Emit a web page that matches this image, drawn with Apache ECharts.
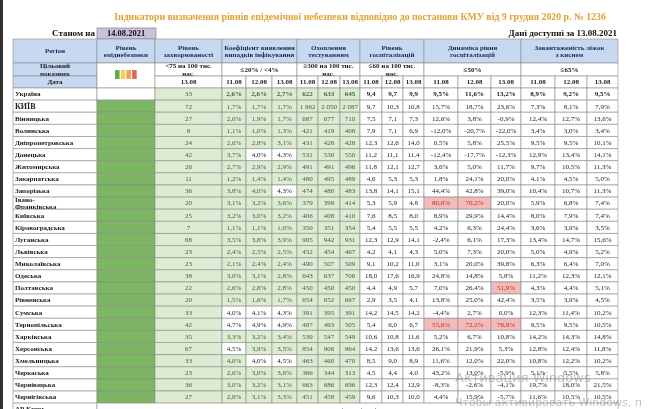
<!DOCTYPE html>
<html><head><meta charset="utf-8">
<script src="https://cdn.jsdelivr.net/npm/echarts@6/dist/echarts.min.js"></script>
<style>html,body{margin:0;padding:0;background:#fff}#c{width:650px;height:409px}</style>
</head><body><div id="c"></div>
<script>
const regions=["Україна","КИЇВ","Вінницька","Волинська","Дніпропетровська","Донецька","Житомирська","Закарпатська","Запорізька","Івано-\nФранківська","Київська","Кіровоградська","Луганська","Львівська","Миколаївська","Одеська","Полтавська","Рівненська","Сумська","Тернопільська","Харківська","Херсонська","Хмельницька","Черкаська","Чернівецька","Чернігівська"];
const zahv=[33,72,27,8,24,42,26,11,36,20,25,7,68,23,23,38,22,20,33,42,35,67,33,23,36,27];
const c11=[2.6,1.7,2.0,1.1,2.6,3.7,2.7,1.2,3.8,3.1,3.2,1.1,3.5,2.4,2.1,3.0,2.6,1.5,4.0,4.7,3.3,4.5,4.0,2.6,3.0,2.8];
const c12=[2.6,1.7,1.9,1.0,2.8,4.0,2.9,1.4,4.0,3.2,3.0,1.1,3.8,2.5,2.4,3.1,2.8,1.6,4.1,4.9,3.2,3.9,4.0,3.0,3.2,3.1];
const c13=[2.7,1.7,1.7,1.3,3.1,4.3,2.9,1.4,4.3,3.6,3.2,1.0,3.9,2.5,2.4,2.8,2.8,1.7,4.3,4.9,3.4,3.5,4.5,3.6,3.1,3.3];
const coefOk11=[1,1,1,1,1,1,1,1,1,1,1,1,1,1,1,1,1,1,0,0,1,0,1,1,1,1];
const coefOk12=[1,1,1,1,1,0,1,1,1,1,1,1,1,1,1,1,1,1,0,0,1,1,0,1,1,1];
const coefOk13=[1,1,1,1,1,0,1,1,0,1,1,1,1,1,1,1,1,1,0,0,1,1,0,1,1,1];
const t11=[622,1962,687,421,431,531,491,480,474,379,406,350,905,452,490,643,450,654,391,487,539,854,463,366,663,451];
const t12=[633,2050,677,419,428,530,491,495,480,399,408,351,942,454,507,637,450,652,395,493,547,906,460,344,686,458];
const t13=[645,2087,710,408,428,550,496,489,483,414,410,354,931,467,509,706,450,667,391,505,549,964,470,313,696,459];
const h11=[9.4,9.7,7.5,7.9,12.3,11.2,11.8,4.6,13.8,5.3,7.6,5.4,12.3,4.2,9.1,18.0,4.4,2.9,14.2,5.4,10.6,14.2,8.5,4.5,12.3,9.6];
const h12=[9.7,10.3,7.1,7.1,12.6,11.1,12.1,5.3,14.1,5.9,8.5,5.5,12.9,4.1,10.2,17.6,4.9,3.5,14.5,6.0,10.8,13.6,9.0,4.4,12.4,10.3];
const h13=[9.9,10.8,7.3,6.9,14.0,11.4,12.7,5.3,15.1,4.8,8.0,5.5,14.1,4.3,11.0,16.9,5.7,4.1,14.2,6.7,11.6,13.6,8.9,4.0,12.9,10.0];
const d11=[9.5,15.7,12.6,-12.0,0.5,-12.4,3.6,1.8,44.4,80.0,8.9,4.2,-2.4,5.0,3.1,24.8,7.0,13.8,-4.4,55.6,5.2,26.1,11.6,43.2,-8.3,4.4];
const d12=[11.6,18.7,3.8,-20.7,5.8,-17.7,5.0,24.1,42.8,70.2,29.9,6.3,6.1,7.3,20.0,14.8,26.4,25.0,2.7,72.2,6.7,21.9,12.0,13.0,-2.6,15.9];
const d13=[13.2,23.6,-0.9,-22.0,25.5,-12.3,11.7,20.0,39.0,20.0,14.4,24.4,17.3,20.0,39.8,5.8,51.9,42.4,0.0,76.9,10.8,5.3,22.0,-5.9,-4.1,-5.7];
const b11=[8.9,7.3,12.4,3.4,9.5,12.9,9.7,4.1,10.4,5.9,8.0,3.6,13.4,5.0,6.3,11.2,4.3,3.5,12.3,9.5,14.2,12.8,10.8,5.1,19.7,11.6];
const b12=[9.2,8.1,12.7,3.0,9.5,13.4,10.5,4.5,10.7,6.8,7.9,3.9,14.7,4.9,6.4,12.3,4.4,3.9,11.4,9.5,14.3,12.4,12.2,5.5,18.0,10.5];
const b13=[9.5,7.9,13.6,3.4,10.1,14.1,11.3,5.0,11.3,7.4,7.4,3.5,15.6,5.2,7.0,12.1,5.1,4.5,10.2,10.5,14.8,11.8,10.2,5.8,21.5,10.5];
const headers=["Регіон","Рівень\nепіднебезпеки","Рівень\nзахворюваності","Коефіцієнт виявлення\nвипадків інфікування","Охоплення\nтестуванням","Рівень\nгоспіталізацій","Динаміка рівня\nгоспіталізацій","Завантаженість ліжок\nз киснем"];
const targets=["<75 на 100 тис.\nнас.","≤20% / <4%","≥300 на 100 тис.\nнас.","≤60 на 100 тис.\nнас.","≤50%","≤65%"];
const dates=["11.08","12.08","13.08"];
const levelColors=["#6aa84f","#f1d35c","#f0a15a","#e06a5a"];

const E=[13,97,155,222,246,272,297,318,340,360,382,403,424,458,491,521,555,587,618];
const RH=12.12, R0=88;
const GREEN="#7cb662", LG="#dcecd3", BLUE="#c6d9f0", PINK="#f4b9b9";
const FONT="Liberation Serif";
const fmt1=v=>v.toFixed(1).replace('.',',');
const pct=v=>fmt1(v)+'%';
const thou=v=>v>=1000?String(v).replace(/(\d)(\d{3})$/,'$1 $2'):String(v);

const cells=[];
function cell(c0,c1,y0,y1,text,o){cells.push(Object.assign({x0:E[c0],x1:E[c1],y0,y1,text:text||'',bg:'#fff',bold:false,size:7,color:'#222'},o||{}));}
const hs=[[0,1],[1,2],[2,3],[3,6],[6,9],[9,12],[12,15],[15,18]];
hs.forEach((h,i)=>cell(h[0],h[1],39,63,headers[i],{bg:BLUE,bold:true,color:'#1f2d4d'}));
cell(0,1,63,76,"Цільовий\nпоказник",{bg:BLUE,bold:true});
cell(0,1,76,88,"Дата",{bg:BLUE,bold:true});
cell(1,2,63,88,"",{squares:true});
const tg=[[2,3],[3,6],[6,9],[9,12],[12,15],[15,18]];
tg.forEach((t,i)=>cell(t[0],t[1],63,76,targets[i],{bold:true}));
cell(2,3,76,88,"13.08",{bold:true});
for(let g=0;g<5;g++)for(let k=0;k<3;k++)cell(3+g*3+k,4+g*3+k,76,88,dates[k],{bold:true});
regions.forEach((r,i)=>{
  const y0=R0+i*RH,y1=y0+RH,u=i===0;
  cell(0,1,y0,y1,r,{bold:true,align:'left',size:i===1?8:7,lh:6.5});
  cell(1,2,y0,y1,"",{bg:u?'#fff':GREEN});
  cell(2,3,y0,y1,String(zahv[i]),{bg:LG,color:'#4a5a3a'});
  [[c11,coefOk11],[c12,coefOk12],[c13,coefOk13]].forEach((p,k)=>cell(3+k,4+k,y0,y1,pct(p[0][i]),{bg:p[1][i]?LG:'#fff',bold:u,color:u?'#3d6b2a':(p[1][i]?'#4a5a3a':'#222')}));
  [t11,t12,t13].forEach((a,k)=>cell(6+k,7+k,y0,y1,thou(a[i]),{bg:LG,bold:u,color:u?'#3d6b2a':'#4a5a3a'}));
  [h11,h12,h13].forEach((a,k)=>cell(9+k,10+k,y0,y1,fmt1(a[i]),{bold:u}));
  [d11,d12,d13].forEach((a,k)=>cell(12+k,13+k,y0,y1,pct(a[i]),{bold:u,bg:a[i]>50?PINK:'#fff',color:a[i]>50?'#b03030':'#222'}));
  [b11,b12,b13].forEach((a,k)=>cell(15+k,16+k,y0,y1,pct(a[i]),{bold:u}));
});
const yk=R0+regions.length*RH;
cell(0,1,yk,yk+RH,"АР Крим",{bold:true,align:'left'});
cell(1,18,yk,yk+RH,"відсутні дані");

const chart=echarts.init(document.getElementById('c'),null,{renderer:'canvas'});
chart.setOption({
  animation:false,
  grid:{left:0,right:0,top:0,bottom:0},
  xAxis:{type:'value',min:0,max:650,show:false},
  yAxis:{type:'value',min:0,max:409,inverse:true,show:false},
  graphic:[{type:'rect',shape:{x:0,y:0,width:3,height:409},style:{fill:'#333'}},
    {type:'text',x:360,y:17,style:{text:"Індикатори визначення рівнів епідемічної небезпеки відповідно до постанови КМУ від 9 грудня 2020 р. № 1236",fontFamily:FONT,fontSize:9.8,fontWeight:'bold',fill:'#e2a233',align:'center',verticalAlign:'middle'}},
    {type:'text',x:95,y:33.5,style:{text:"Станом на",fontFamily:FONT,fontSize:9,fontWeight:'bold',fill:'#111',align:'right',verticalAlign:'middle'}},
    {type:'text',x:617,y:33.5,style:{text:"Дані доступні за 13.08.2021",fontFamily:FONT,fontSize:9,fontWeight:'bold',fill:'#111',align:'right',verticalAlign:'middle'}},
    {type:'rect',shape:{x:97,y:28,width:59,height:11},style:{fill:'#ccc0da',stroke:'#777',lineWidth:0.6}},
    {type:'text',x:126,y:33.5,style:{text:'14.08.2021',fontFamily:FONT,fontSize:8.5,fontWeight:'bold',fill:'#111',align:'center',verticalAlign:'middle'}},
    {type:'text',z:100,x:455,y:372,style:{text:"Активация Windows",fontFamily:'DejaVu Sans',fontSize:13,fill:'rgba(120,120,120,0.45)'}},
    {type:'text',z:100,x:455,y:398,style:{text:"Чтобы активировать Windows, п",fontFamily:'DejaVu Sans',fontSize:11,fill:'rgba(120,120,120,0.45)'}}],
  series:[{type:'custom',coordinateSystem:'cartesian2d',clip:false,z:1,
    data:cells.map((c,i)=>[c.x0,c.y0,c.x1,c.y1,i]),
    renderItem:(p,api)=>{
      const c=cells[api.value(4)];
      const a=api.coord([api.value(0),api.value(1)]),b=api.coord([api.value(2),api.value(3)]);
      const w=b[0]-a[0],h=b[1]-a[1];
      const ch=[{type:'rect',shape:{x:a[0],y:a[1],width:w,height:h},style:{fill:c.bg,stroke:'#8a8a8a',lineWidth:0.6}}];
      if(c.text){const left=c.align==='left';
        ch.push({type:'text',x:left?a[0]+2:a[0]+w/2,y:a[1]+h/2+0.5,style:{text:c.text,fontFamily:FONT,fontSize:c.size,fontWeight:c.bold?'bold':'normal',fill:c.color,align:left?'left':'center',verticalAlign:'middle',lineHeight:c.lh||7.5}});}
      if(c.squares){levelColors.forEach((col,k)=>ch.push({type:'rect',shape:{x:a[0]+w/2-11+k*5.7,y:a[1]+7,width:4.6,height:9},style:{fill:col}}));}
      return {type:'group',children:ch};
    }}]
});
</script></body></html>
